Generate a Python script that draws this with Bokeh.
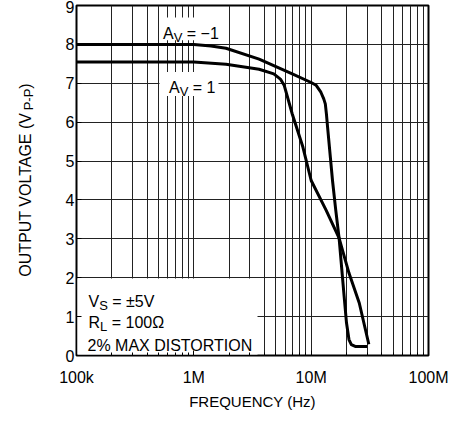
import math
from bokeh.plotting import figure
from bokeh.models import FixedTicker, Label, Range1d
from bokeh.layouts import row
from bokeh.embed import file_html
from bokeh.resources import INLINE

# ---------------- data ----------------
freq_av_neg1 = [1e5, 3e5, 1e6, 1.4e6, 1.88e6, 3.6e6, 6.9e6, 10e6, 11e6, 12.1e6, 12.8e6,
                13.2e6, 13.5e6, 13.8e6, 15.2e6, 16.2e6, 17.3e6, 19.1e6, 20e6, 21e6,
                22e6, 24e6, 30e6]
vout_av_neg1 = [8.0, 8.0, 8.0, 7.96, 7.9, 7.62, 7.24, 7.02, 6.95, 6.77, 6.6,
                6.47, 6.2, 5.87, 4.5, 3.74, 3.02, 1.52, 0.84, 0.41,
                0.28, 0.23, 0.23]
freq_av_pos1 = [1e5, 3e5, 1e6, 1.88e6, 3.6e6, 4.8e6, 5.5e6, 5.9e6, 6.9e6, 8.5e6, 10e6,
                13.4e6, 17.3e6, 21e6, 25.7e6, 31e6]
vout_av_pos1 = [7.55, 7.55, 7.55, 7.49, 7.36, 7.24, 7.1, 6.94, 6.21, 5.36, 4.5,
                3.74, 3.02, 2.12, 1.35, 0.29]

x_major_ticks = [100000, 1000000, 10000000, 100000000]
x_tick_labels = ["100k", "1M", "10M", "100M"]
y_ticks = [0, 1, 2, 3, 4, 5, 6, 7, 8, 9]

# ---------------- style ----------------
FONT = "Liberation Sans"
FS = 16      # main text size (px)
SUB = 13     # subscript size (px)

# approximate advance widths (em) of the glyphs used, Arial-compatible metrics
ADV = {"A": .667, "V": .667, "S": .667, "R": .722, "L": .556, "P": .667, " ": .278,
       "=": .584, "\u2212": .584, "\u00b1": .584, "1": .556, "0": .556, "5": .556,
       "\u03a9": .768, "-": .333, "(": .333, ")": .333, "O": .778, "U": .722,
       "T": .611, "G": .778, "E": .667}


def width(text, size):
    return sum(ADV.get(c, .6) for c in text) * size


# reference-image frame geometry (pixels) used to place annotations
FL, FR, FT, FB = 84, 436, 11, 363


def dx(px):
    return 10 ** (5 + 3 * (px - FL) / (FR - FL))


def dy(py):
    return 9 * (FB - py) / (FB - FT)


TITLE_W = 40
BT, FH, BB = 5, 350, 52   # top border, frame height, bottom border

p = figure(x_axis_type="log", x_range=Range1d(1e5, 1e8), y_range=Range1d(0, 9),
           frame_width=352, frame_height=FH,
           min_border_left=84 - 8 - TITLE_W, min_border_right=27,
           min_border_top=BT, min_border_bottom=BB,
           output_backend="svg", toolbar_location=None)

minor = [k * 10 ** d for d in (5, 6, 7) for k in range(2, 10)]
p.xaxis.ticker = FixedTicker(ticks=x_major_ticks, minor_ticks=minor)
p.xaxis.major_label_overrides = {t: l for t, l in zip(x_major_ticks, x_tick_labels)}
p.yaxis.ticker = FixedTicker(ticks=y_ticks)

for ax in (p.xaxis, p.yaxis):
    ax.axis_line_color = None
    ax.major_tick_in = 5
    ax.major_tick_out = 0
    ax.minor_tick_in = 3
    ax.minor_tick_out = 0
    ax.major_tick_line_color = "black"
    ax.minor_tick_line_color = "black"
    ax.major_label_text_font = FONT
    ax.major_label_text_font_size = "%dpx" % FS
    ax.major_label_text_color = "black"
p.yaxis.minor_tick_line_color = None
p.yaxis.major_label_standoff = 2
p.xaxis.major_label_standoff = 13
p.xaxis.axis_label = "FREQUENCY (Hz)"
p.xaxis.axis_label_text_font = FONT
p.xaxis.axis_label_text_font_size = "15px"
p.xaxis.axis_label_text_font_style = "normal"
p.xaxis.axis_label_text_color = "black"
p.xaxis.axis_label_standoff = 4

p.xgrid.grid_line_color = "#222222"
p.xgrid.minor_grid_line_color = "#222222"
p.ygrid.grid_line_color = "#222222"
p.xgrid.grid_line_width = 1
p.ygrid.grid_line_width = 1

p.outline_line_color = "black"
p.outline_line_width = 2
p.background_fill_color = "white"
p.border_fill_color = "white"

# white boxes masking the grid behind the annotations
p.quad(left=[dx(85), dx(168), dx(167)], right=[dx(265), dx(232), dx(226)],
       bottom=[dy(362), dy(46), dy(102)], top=[dy(285.5), dy(23), dy(78)],
       fill_color="white", line_color=None)

p.line(freq_av_neg1, vout_av_neg1, line_width=3, color="black", line_join="round")
p.line(freq_av_pos1, vout_av_pos1, line_width=3, color="black", line_join="round")


def put_seq(parts, px, py):
    """parts: (text, size, drop) pieces drawn one after another from anchor (px, py)."""
    off = 0.0
    for text, size, drop in parts:
        lead = len(text) - len(text.lstrip(" "))
        off += width(" " * lead, size)
        text = text.lstrip(" ")
        p.add_layout(Label(x=dx(px), y=dy(py), x_offset=off, y_offset=-drop,
                           text=text, text_font=FONT,
                           text_font_size="%dpx" % size, text_color="black",
                           text_align="left", text_baseline="alphabetic"))
        off += width(text, size)


# A_V labels
put_seq([("A", FS, 0), ("V", SUB, 4), (" = \u22121", FS, 0)], 170.5, 39)
put_seq([("A", FS, 0), ("V", SUB, 4), (" = 1", FS, 0)], 176.5, 93.3)

# conditions box
put_seq([("V", FS, 0), ("S", SUB, 4), (" = \u00b15V", FS, 0)], 96, 308.5)
put_seq([("R", FS, 0), ("L", SUB, 4), (" = 100\u03a9", FS, 0)], 96, 329.5)
put_seq([("2% MAX DISTORTION", FS, 0)], 95, 352.5)

# ---------------- y-axis title (narrow figure sharing p's y range) ----------------
tf = figure(frame_width=TITLE_W, frame_height=FH,
            x_range=Range1d(8, 8 + TITLE_W), y_range=p.y_range,
            min_border_left=0, min_border_right=0,
            min_border_top=BT, min_border_bottom=BB,
            output_backend="svg", toolbar_location=None)
tf.axis.visible = False
tf.grid.visible = False
tf.outline_line_color = None
tf.background_fill_color = "white"
tf.border_fill_color = "white"

yt_parts = [("OUTPUT VOLTAGE (V", FS, 0), ("P-P", SUB, 3), (")", FS, 0)]
total = sum(width(t, s) for t, s, _ in yt_parts)
off = -total / 2
base_x = 33
for text, size, drop in yt_parts:
    tf.add_layout(Label(x=base_x + drop, y=dy(186.5), y_offset=off, text=text,
                        text_font=FONT, text_font_size="%dpx" % size,
                        text_color="black", angle=math.pi / 2, text_align="left",
                        text_baseline="alphabetic"))
    off += width(text, size)

layout = row(tf, p)
open("out.html", "w").write(file_html(layout, INLINE))
